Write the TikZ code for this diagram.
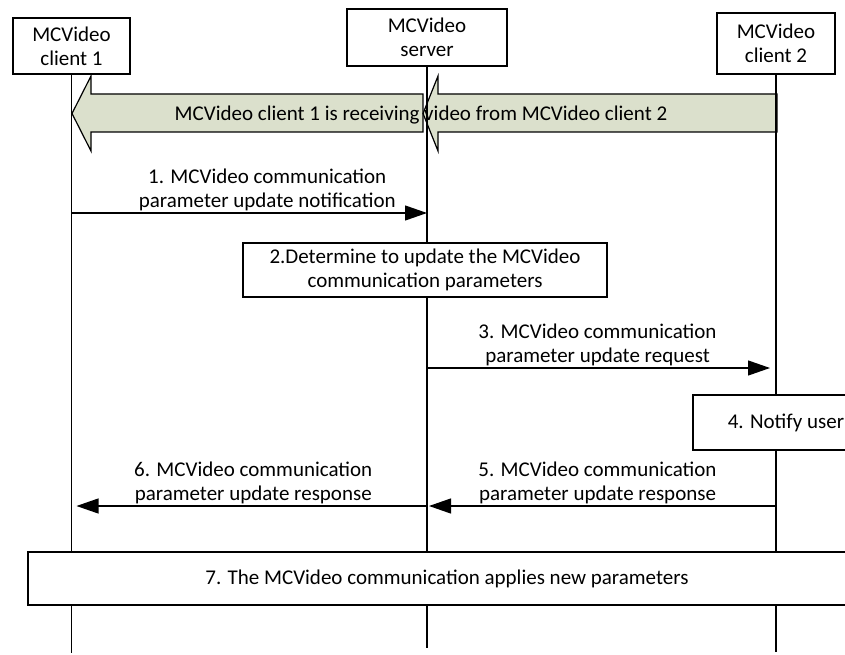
\documentclass[tikz,border=0pt]{standalone}
\usepackage{fontspec}
\setmainfont{Carlito}
\usetikzlibrary{arrows.meta,positioning}
\definecolor{bandfill}{HTML}{DBE0CC}

\begin{document}
\begin{tikzpicture}[x=1pt,y=-1pt,font=\fontsize{21}{24}\selectfont,
 entity/.style={draw,fill=white,line width=1.2pt,align=center,inner sep=0pt},
 stepbox/.style={draw,fill=white,line width=1.2pt,align=center,inner sep=0pt},
 life/.style={line width=1.2pt},
 band/.style={draw,fill=bandfill,line width=1.2pt,line join=miter},
 msg/.style={-{Triangle[length=22pt,width=15pt]},line width=1.2pt},
 lbl/.style={above,align=center,inner sep=2pt}]
\useasboundingbox (0,0) rectangle (845,655);
\node[entity,minimum width=117,minimum height=56] (c1) at (71.5,46) {MCVideo\\client 1};
\node[entity,minimum width=160,minimum height=57] (srv) at (427,37.5) {MCVideo\\server};
\node[entity,minimum width=118,minimum height=61] (c2) at (776,43.5) {MCVideo\\client 2};
\draw[band] (72,113.5) -- (91,76) -- (91,94) -- (423,94) -- (423,132) -- (91,132) -- (91,151) -- cycle;
\draw[band] (423,113.5) -- (438,76) -- (438,94) -- (777,94) -- (777,132) -- (438,132) -- (438,151) -- cycle;
\draw[life] (c1.south) -- (c1.south |- 0,653);
\draw[life] (srv.south) -- (srv.south |- 0,648);
\draw[life] (c2.south) -- (c2.south |- 0,652);
\node (share) at (421,115) {MCVideo client 1 is receiving video from MCVideo client 2};
\draw[msg] (c1 |- 0,213) -- node[lbl,xshift=18]{1. MCVideo communication\\parameter update notification} (srv |- 0,213);
\node[stepbox,minimum width=364,minimum height=54] (decide) at (425,270) {2.Determine to update the MCVideo\\communication parameters};
\draw[msg,shorten >=6pt] (srv |- 0,368) -- node[lbl,xshift=-4]{3. MCVideo communication\\parameter update request} (c2 |- 0,368);
\node[stepbox,minimum width=186,minimum height=55] (notify) at (786,422.5) {4. Notify user};
\draw[msg,shorten >=2pt] (c2 |- 0,506) -- node[lbl,xshift=-4]{5. MCVideo communication\\parameter update response} (srv |- 0,506);
\draw[msg,shorten >=5pt] (srv |- 0,506) -- node[lbl,xshift=4]{6. MCVideo communication\\parameter update response} (c1 |- 0,506);
\node[stepbox,minimum width=838,minimum height=53] (apply) at (447,578.5) {7. The MCVideo communication applies new parameters};
\end{tikzpicture}
\end{document}
